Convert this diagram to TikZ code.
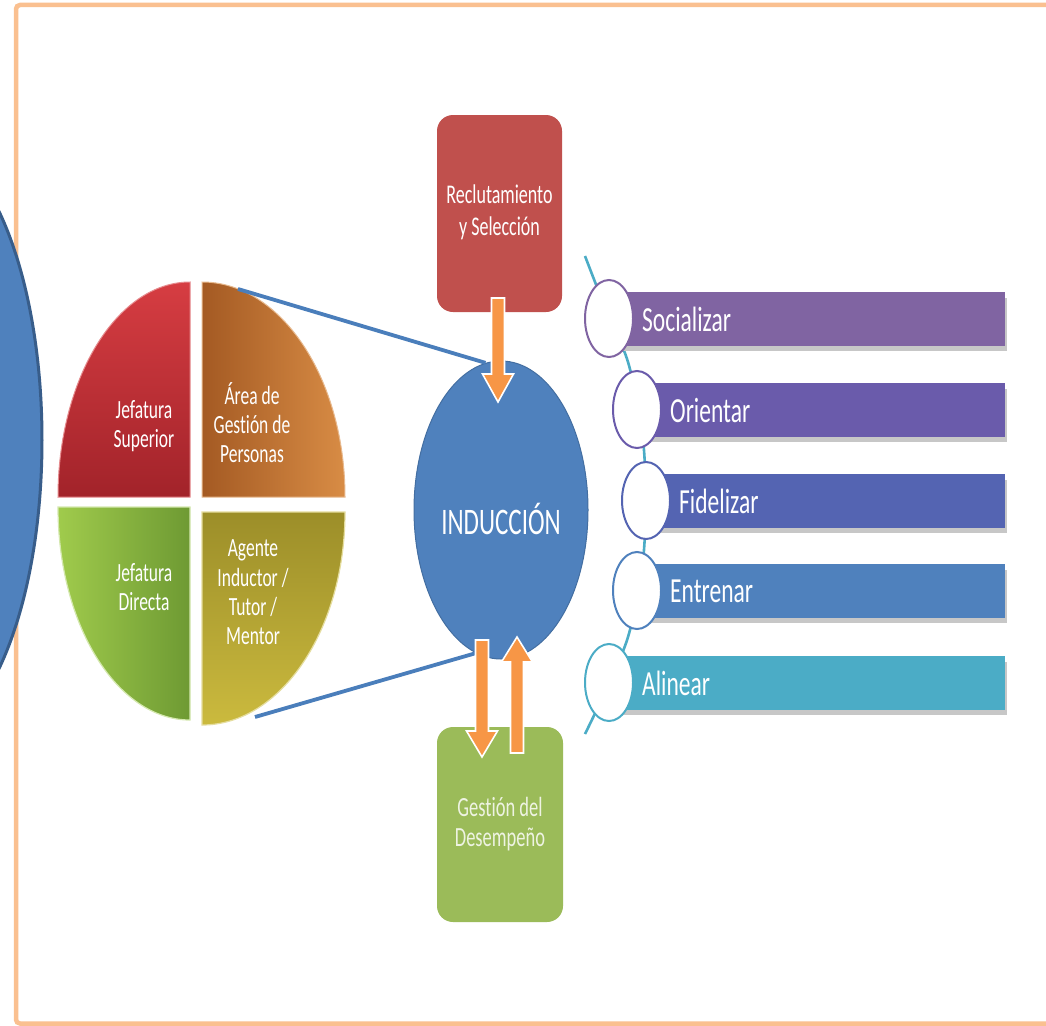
\documentclass[tikz,border=0pt]{standalone}
\usepackage{fontspec}
\setmainfont{Carlito}[Ligatures=NoCommon]
\usepackage{graphicx}
\usetikzlibrary{shapes.geometric,calc}

\definecolor{frameor}{HTML}{FAC090}
\definecolor{accblue}{HTML}{4F81BD}
\definecolor{darkblue}{HTML}{385D8A}
\definecolor{linkblue}{HTML}{4A7EBB}
\definecolor{accred}{HTML}{C0504D}
\definecolor{accgreen}{HTML}{9BBB59}
\definecolor{accorange}{HTML}{F79646}
\definecolor{acccyan}{HTML}{4BACC6}
\definecolor{listA}{HTML}{8064A2}
\definecolor{listB}{HTML}{6A5BAB}
\definecolor{listC}{HTML}{5464B2}
\definecolor{listD}{HTML}{4F81BD}
\definecolor{listE}{HTML}{4BACC6}
\definecolor{redA}{HTML}{D63D42}
\definecolor{redB}{HTML}{A2232A}
\definecolor{orA}{HTML}{A45A23}
\definecolor{orB}{HTML}{D88C45}
\definecolor{grA}{HTML}{A0CB4C}
\definecolor{grB}{HTML}{6E9A33}
\definecolor{olA}{HTML}{9C8E29}
\definecolor{olB}{HTML}{CBBA3E}
\definecolor{paletext}{HTML}{EEF3E2}

% text is set taller than wide
\newcommand\tallbox[1]{\scalebox{1}[1.5]{#1}}
\newcommand\stack[1]{\begin{tabular}{@{}c@{}}#1\end{tabular}}

% vertical block arrow: x, tail y, head base y, tip y
\newcommand\blockarrow[4]{%
  \filldraw[arrowbody] (#1-6.5,#2) -- (#1-6.5,#3) -- (#1-15.5,#3) -- (#1,#4)
    -- (#1+15.5,#3) -- (#1+6.5,#3) -- (#1+6.5,#2) -- cycle;}

\tikzset{
  pietext/.style={text=white, inner sep=0pt, font=\fontsize{17.5}{19.5}\selectfont},
  boxtext/.style={inner sep=0pt, font=\fontsize{18}{21.3}\selectfont},
  stepbox/.style={rectangle, rounded corners=16pt, inner sep=0pt},
  arrowbody/.style={fill=accorange, draw=white, line width=1.6pt, line join=miter},
  link/.style={draw=linkblue, line width=3.8pt},
  listlabel/.style={text=white, inner sep=0pt, anchor=west, font=\fontsize{23.5}{26}\selectfont},
}

\begin{document}
\begin{tikzpicture}[x=1pt,y=-1pt]
\useasboundingbox (0,0) rectangle (1046,1025);
\clip (0,0) rectangle (1046,1025);
\fill[white] (0,0) rectangle (1046,1025);

% page frame
\draw[frameor, line width=4.5pt, rounded corners=4pt] (16,5) rectangle (1080,1023.5);

% large side disc
\node[ellipse, fill=accblue, draw=darkblue, line width=3pt,
      minimum width=244pt, minimum height=600pt, inner sep=0pt] (side) at (-80,440) {};

% four-part disc of the agents involved
\shadedraw[top color=redA, bottom color=redB, draw=redA!60!white, line width=1pt]
  (190,497) -- (58,497) arc[start angle=180, end angle=90, x radius=132pt, y radius=215pt] -- cycle;
\shadedraw[left color=orA, right color=orB, draw=orB!60!white, line width=1pt]
  (202,497) -- (202,282) arc[start angle=90, end angle=0, x radius=143pt, y radius=215pt] -- cycle;
\shadedraw[left color=grA, right color=grB, draw=grA!45!white, line width=1.2pt]
  (190,507) -- (58,507) arc[start angle=180, end angle=270, x radius=132pt, y radius=213pt] -- cycle;
\shadedraw[top color=olA, bottom color=olB, draw=olB!50!white, line width=1.2pt]
  (202,512) -- (345,512) arc[start angle=0, end angle=-90, x radius=143pt, y radius=213pt] -- cycle;

\node[pietext] (jsup) at (144,427) {\tallbox{\stack{Jefatura\\Superior}}};
\node[pietext] (agp)  at (252,427) {\tallbox{\stack{Área de\\Gestión de\\Personas}}};
\node[pietext] (jdir) at (144,590) {\tallbox{\stack{Jefatura\\Directa}}};
\node[pietext] (aitm) at (253,595) {\tallbox{\stack{Agente\\Inductor /\\Tutor /\\Mentor}}};

\coordinate (pieTop) at (238,289);
\coordinate (pieBot) at (255,717);

% process boxes and the central disc
\node[stepbox, fill=accred, minimum width=125pt, minimum height=197pt] (rys) at (499.5,213.5) {};
\node[boxtext, text=white] (rystxt) at (rys.center) {\tallbox{\stack{Reclutamiento\\y Selección}}};

\node[stepbox, fill=accgreen, minimum width=126pt, minimum height=195pt] (gdd) at (500,824.5) {};
\node[boxtext, text=paletext, font=\fontsize{18.5}{20}\selectfont] (gddtxt) at (500,825) {\tallbox{\stack{Gestión del\\Desempeño}}};

\node[ellipse, fill=accblue, draw=accblue!85!black, line width=1pt,
      minimum width=174pt, minimum height=298pt, inner sep=0pt] (ind) at (501,510) {};
\node[text=white, inner sep=0pt, font=\fontsize{25}{28}\selectfont] (indtxt) at (501,519) {\tallbox{INDUCCIÓN}};

% links from the disc to the central step
\draw[link] (pieTop) -- (ind.96);
\draw[link] (pieBot) -- (ind.260);

% flow arrows
\blockarrow{498}{298}{374}{402}
\blockarrow{482}{640}{731}{757}
\blockarrow{517}{753}{662}{637}

% purposes of the induction
\draw[acccyan, line width=2.6pt] plot[smooth] coordinates
  {(585,256) (606,310) (628,362) (642,430) (646,500) (642,570) (628,637) (606,690) (585,734)};

\foreach \cx/\cy/\col/\lab/\nm in {
    609/318.5/listA/Socializar/soc,
    637/409.5/listB/Orientar/ori,
    646/500.5/listC/Fidelizar/fid,
    637/590.5/listD/Entrenar/ent,
    609/682.5/listE/Alinear/ali}{
  \pgfmathsetmacro\bw{1005-\cx}
  \fill[black!22] (\cx+6,\cy-21) rectangle (1007,\cy+32);
  \node[rectangle, fill=\col, anchor=west, minimum width=\bw pt, minimum height=54pt, inner sep=0pt]
    (bar-\nm) at (\cx,\cy) {};
  \node[ellipse, fill=white, draw=\col, line width=2pt, minimum width=48pt, minimum height=77pt, inner sep=0pt]
    (dot-\nm) at (\cx,\cy) {};
  \node[listlabel] (lab-\nm) at ($(\cx,\cy)+(33,1)$) {\tallbox{\lab}};
}
\end{tikzpicture}
\end{document}
